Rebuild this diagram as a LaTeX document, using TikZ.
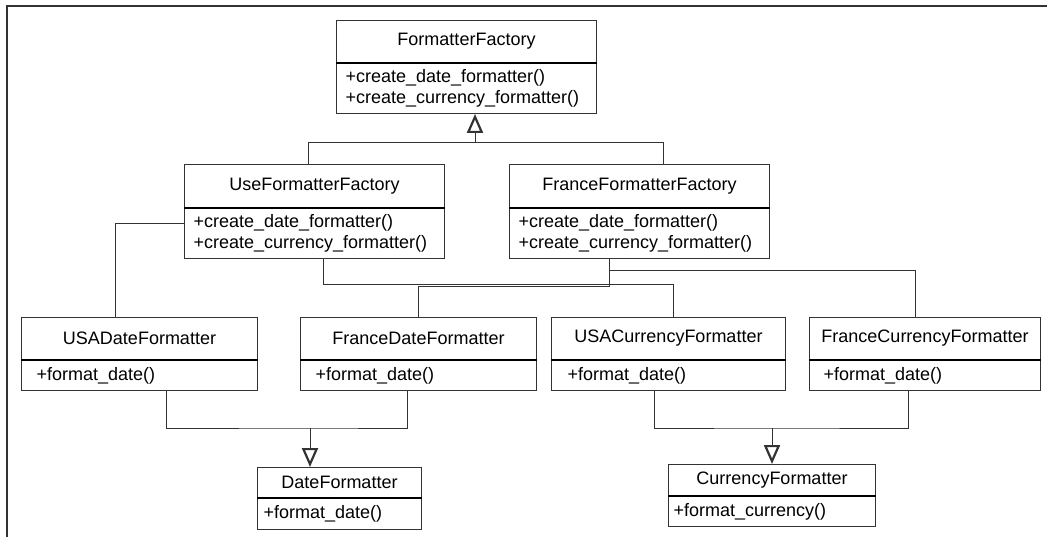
\documentclass[tikz,border=0pt]{standalone}
\usepackage{fontspec}
\setmainfont{Liberation Sans}
\usetikzlibrary{arrows.meta,positioning}
\definecolor{umlline}{RGB}{51,51,51}

\begin{document}
\begin{tikzpicture}[x=1pt,y=-1pt,
  font=\fontsize{18}{21}\selectfont,
  head/.style={draw=umlline, line width=1pt, anchor=north west, inner sep=0pt},
  member/.style={draw=umlline, line width=1pt, align=left, inner ysep=0pt},
  divider/.style={line width=2pt, black},
  conn/.style={umlline, line width=1pt},
  inherit/.style={conn, -{Triangle[open, length=19pt, width=16pt, line width=2.2pt, fill=white]}}]
\useasboundingbox (0,0) rectangle (1047,537);
\draw[umlline, line width=2pt] (1047,6.5) -- (7,6.5) -- (7,537);

% factories
\node[head, minimum width=260pt, minimum height=42pt] (ff) at (336,20) {FormatterFactory};
\node[member, below right=0pt and 0pt of ff.south west, text width=242pt, inner xsep=9pt, minimum height=50pt] (ffm) {+create\_date\_formatter()\\+create\_currency\_formatter()};
\node[head, minimum width=260pt, minimum height=43pt] (use) at (184,164) {UseFormatterFactory};
\node[member, below right=0pt and 0pt of use.south west, text width=242pt, inner xsep=9pt, minimum height=50pt] (usem) {+create\_date\_formatter()\\+create\_currency\_formatter()};
\node[head, minimum width=260pt, minimum height=43pt] (fra) at (509,164) {FranceFormatterFactory};
\node[member, below right=0pt and 0pt of fra.south west, text width=242pt, inner xsep=9pt, minimum height=50pt] (fram) {+create\_date\_formatter()\\+create\_currency\_formatter()};

% concrete formatters
\node[head, minimum width=236pt, minimum height=42pt] (usad) at (21,317) {USADateFormatter};
\node[member, below right=0pt and 0pt of usad.south west, text width=206pt, inner xsep=15pt, minimum height=30pt] (usadm) {+format\_date()};
\node[head, minimum width=236pt, minimum height=42pt] (frd) at (300,317) {FranceDateFormatter};
\node[member, below right=0pt and 0pt of frd.south west, text width=206pt, inner xsep=15pt, minimum height=30pt] (frdm) {+format\_date()};
\node[head, minimum width=234pt, minimum height=42pt] (usac) at (551,317) {USACurrencyFormatter};
\node[member, below right=0pt and 0pt of usac.south west, text width=202pt, inner xsep=16pt, minimum height=30pt] (usacm) {+format\_date()};
\node[head, minimum width=231pt, minimum height=42pt] (frc) at (809,317) {FranceCurrencyFormatter};
\node[member, below right=0pt and 0pt of frc.south west, text width=203pt, inner xsep=14pt, minimum height=30pt] (frcm) {+format\_date()};

% base formatters
\node[head, minimum width=164pt, minimum height=30pt] (df) at (257,467) {DateFormatter};
\node[member, below right=0pt and 0pt of df.south west, text width=152pt, inner xsep=6pt, minimum height=31pt] (dfm) {+format\_date()};
\node[head, minimum width=207pt, minimum height=31pt] (cf) at (668,464) {CurrencyFormatter};
\node[member, below right=0pt and 0pt of cf.south west, text width=197pt, inner xsep=5pt, minimum height=30pt] (cfm) {+format\_currency()};

\foreach \c in {ff,use,fra,usad,frd,usac,frc,df,cf}
  \draw[divider] (\c.south west) -- (\c.south east);

% factory inheritance
\coordinate (fj) at (475,143);
\draw[conn] ([xshift=-6pt]use.north) |- (fj);
\draw[conn] ([xshift=24pt]fra.north) |- (fj);
\draw[inherit] (fj) -- (fj |- ffm.south);

% creation links
\draw[conn] ([yshift=10pt]usem.west) -| ([xshift=-24pt]usad.north);
\draw[conn] ([xshift=9pt]usem.south) -- ++(0,26) -| ([xshift=5pt]usac.north);
\draw[conn] ([xshift=-30pt]fram.south) -- ++(0,28) -| (frd.north);
\draw[conn] ([xshift=-30pt]fram.south) -- ++(0,12) -| ([xshift=-10pt]frc.north);

% formatter inheritance
\coordinate (dj) at (310,428);
\draw[conn] ([xshift=27pt]usadm.south) |- (dj) -| ([xshift=-11pt]frdm.south);
\draw[inherit] (dj) -- (dj |- df.north);
\coordinate (cj) at (772,428);
\draw[conn] ([xshift=-14pt]usacm.south) |- (cj) -| ([xshift=-17pt]frcm.south);
\draw[inherit] (cj) -- (cj |- cf.north);
\end{tikzpicture}
\end{document}
